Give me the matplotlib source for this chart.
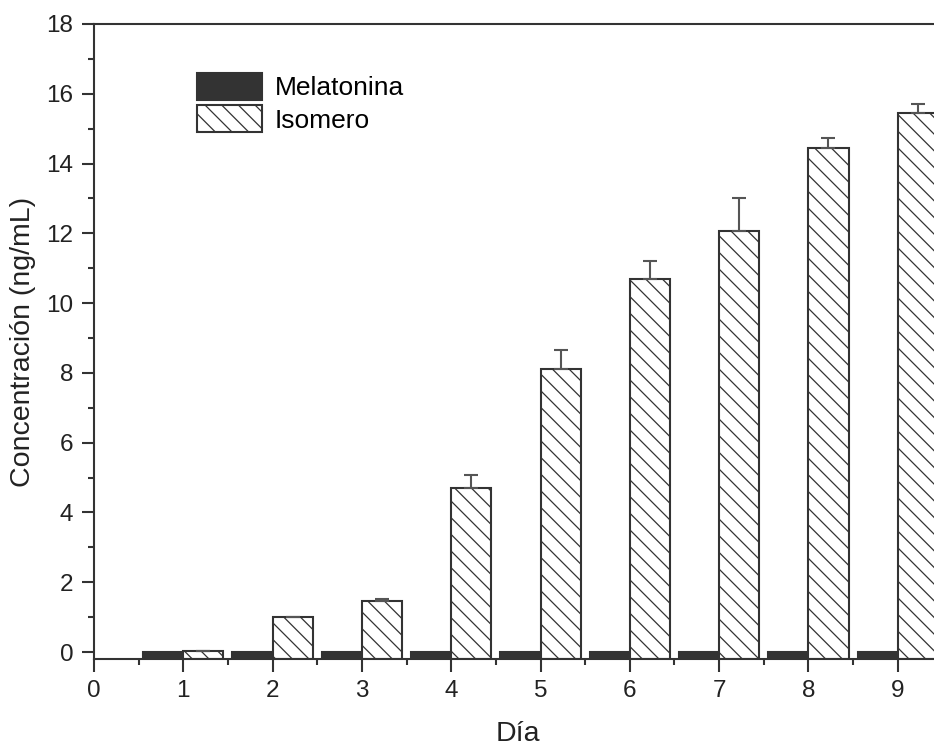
import matplotlib
matplotlib.use('Agg')
import matplotlib.pyplot as plt
import numpy as np

# data
dias = [1, 2, 3, 4, 5, 6, 7, 8, 9]
melatonina = [0.0, 0.0, 0.0, 0.0, 0.0, 0.0, 0.0, 0.0, 0.0]
isomero = [0.03, 1.01, 1.47, 4.69, 8.1, 10.68, 12.07, 14.46, 15.45]
isomero_err = [0.0, 0.0, 0.04, 0.38, 0.55, 0.53, 0.93, 0.27, 0.27]

plt.rcParams['font.family'] = ['Liberation Sans', 'DejaVu Sans']
plt.rcParams['hatch.linewidth'] = 0.9
plt.rcParams['hatch.color'] = '#333333'

fig = plt.figure(figsize=(9.34, 7.47), dpi=100)
# right side of the axes is cut off in the reference
ax = fig.add_axes([94 / 934, 1 - 659 / 747, 893 / 934, 635 / 747])

ymin = -0.2
x = np.array(dias)
w = 0.45
ax.bar(x - w, np.array(melatonina) - ymin, width=w, bottom=ymin, align='edge',
       color='#333333', edgecolor='#333333', linewidth=1.5, label='Melatonina')
ax.bar(x, np.array(isomero) - ymin, width=w, bottom=ymin, align='edge',
       color='white', edgecolor='#333333', linewidth=1.5, hatch='\\\\',
       label='Isomero')
ax.errorbar(x + w / 2, isomero, yerr=[np.zeros(len(isomero)), isomero_err],
            fmt='none', ecolor='#555555', elinewidth=1.5, capsize=5, capthick=1.5)

ax.set_xlim(0, 10)
ax.set_ylim(ymin, 18)
ax.set_xticks(range(0, 10))
ax.set_xticks(np.arange(0.5, 10, 1), minor=True)
ax.set_yticks(range(0, 19, 2))
ax.set_yticks(range(1, 18, 2), minor=True)
ax.tick_params(which='major', direction='out', length=9, width=1.5, labelsize=17.5,
               pad=6, color='#333333', labelcolor='#222222')
ax.tick_params(which='minor', direction='out', length=4.5, width=1.5, color='#333333')
ax.tick_params(top=False, right=False)
for s in ax.spines.values():
    s.set_linewidth(1.5)
    s.set_color('#333333')

ax.set_xlabel('Día', fontsize=20.5, color='#222222')
ax.set_ylabel('Concentración (ng/mL)', fontsize=20.5, color='#222222')
ax.xaxis.set_label_coords(424 / 893, -62 / 635)
ax.yaxis.set_label_coords(-58 / 893, 0.5)

ax.legend(loc='upper left', bbox_to_anchor=(197 / 934, 1 - 73 / 747),
          bbox_transform=fig.transFigure, frameon=False, fontsize=19,
          handlelength=2.46, handleheight=1.17, handletextpad=0.5, labelspacing=0.2,
          borderaxespad=0, borderpad=0)

fig.savefig('out.png', dpi=100)
